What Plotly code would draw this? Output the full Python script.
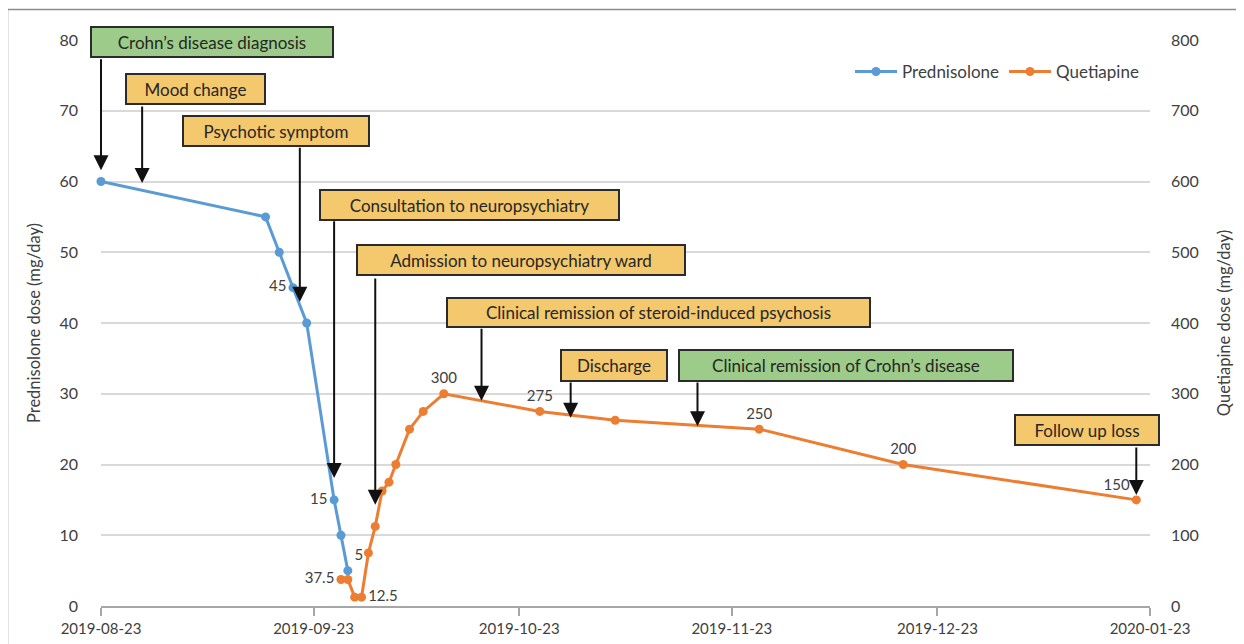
import plotly.graph_objects as go

# ---------------- data ----------------
pred_dates = ['2019-08-23', '2019-09-16', '2019-09-18', '2019-09-20', '2019-09-22',
              '2019-09-26', '2019-09-27', '2019-09-28']
pred_vals = [60, 55, 50, 45, 40, 15, 10, 5]
pred_labels = ['', '', '', '45', '', '15', '', '5']

quet_dates = ['2019-09-27', '2019-09-28', '2019-09-29', '2019-09-30', '2019-10-01',
              '2019-10-02', '2019-10-03', '2019-10-04', '2019-10-05', '2019-10-07',
              '2019-10-09', '2019-10-12', '2019-10-26', '2019-11-06', '2019-11-27',
              '2019-12-18', '2020-01-21']
quet_vals = [37.5, 37.5, 12.5, 12.5, 75, 112.5, 162.5, 175, 200, 250, 275, 300,
             275, 262.5, 250, 200, 150]
quet_labels = ['37.5', '', '', '12.5', '', '', '', '', '', '', '', '300', '275', '',
               '250', '200', '150']

x_ticks = ['2019-08-23', '2019-09-23', '2019-10-23', '2019-11-23', '2019-12-23', '2020-01-23']
x_tick_text = ['2019-08-23', '2019-09-23', '2019-10-23', '2019-11-23', '2019-12-23', '2020-01-23']

event_labels = ["Crohn\u2019s disease diagnosis", "Mood change", "Psychotic symptom",
                "Consultation to neuropsychiatry", "Admission to neuropsychiatry ward",
                "Clinical remission of steroid-induced psychosis", "Discharge",
                "Clinical remission of Crohn\u2019s disease", "Follow up loss"]
event_dates = ['2019-08-23', '2019-08-29', '2019-09-21', '2019-09-26', '2019-10-02',
               '2019-10-17 12:00', '2019-10-30 12:00', '2019-11-18', '2020-01-21']
event_kind = ['crohn', 'psych', 'psych', 'psych', 'psych', 'psych', 'psych', 'crohn', 'psych']
# arrow head / tail heights in prednisolone axis units
event_tip = [61.6, 59.8, 43.0, 18.1, 14.3, 29.0, 26.6, 25.4, 15.7]
event_tail = [77.5, 70.8, 65.0, 54.6, 46.5, 39.4, 31.8, 31.8, 22.6]

# ---------------- layout geometry (screen pixels) ----------------
OFF = 8  # default page body margin
W, H = 1244 - OFF, 644 - OFF
L, T = 101 - OFF, 40 - OFF
R = W - (1150 - OFF)
B = H - (606 - OFF)
PW, PH = W - L - R, H - T - B
box_cx = [212, 195.5, 276, 469.5, 521, 658.5, 614, 846, 1087]
box_cy = [42, 89, 131, 205, 260, 312.5, 365.5, 365.5, 430]
box_w = [244, 141, 188, 301, 330, 425, 108, 336, 146]
box_h = [32, 32, 32, 32, 32, 31, 33, 33, 32]

BLUE = '#5b9bd5'
ORANGE = '#ed7d31'
FILL = {'crohn': '#9dcb89', 'psych': '#f4c86c'}
FONT = 'Lato, Open Sans, sans-serif'
TXT = '#404040'


def px_to_paper_x(px):
    return (px - OFF - L) / PW


def px_to_paper_y(py):
    return (H - B - (py - OFF)) / PH


fig = go.Figure()

pred_pos = ['middle left' if l in ('45', '15') else 'top right' for l in pred_labels]
fig.add_trace(go.Scatter(
    x=pred_dates, y=pred_vals, name='Prednisolone', mode='lines+markers+text',
    text=pred_labels, textposition=pred_pos,
    textfont=dict(size=15, color=TXT, family=FONT),
    line=dict(color=BLUE, width=3), marker=dict(color=BLUE, size=9),
    cliponaxis=False, yaxis='y'))

quet_pos = []
for l in quet_labels:
    if l == '37.5':
        quet_pos.append('middle left')
    elif l == '12.5':
        quet_pos.append('middle right')
    elif l == '150':
        quet_pos.append('top left')
    else:
        quet_pos.append('top center')
fig.add_trace(go.Scatter(
    x=quet_dates, y=quet_vals, name='Quetiapine', mode='lines+markers+text',
    text=quet_labels, textposition=quet_pos,
    textfont=dict(size=15, color=TXT, family=FONT),
    line=dict(color=ORANGE, width=3), marker=dict(color=ORANGE, size=9),
    cliponaxis=False, yaxis='y2'))

annotations = []
for i, lab in enumerate(event_labels):
    annotations.append(dict(
        x=event_dates[i], y=event_tip[i], xref='x', yref='y',
        ax=event_dates[i], ay=event_tail[i], axref='x', ayref='y',
        text='', showarrow=True, arrowhead=2, arrowsize=1.5, arrowwidth=2,
        arrowcolor='#111111', standoff=0, startstandoff=0))
for i, lab in enumerate(event_labels):
    annotations.append(dict(
        x=px_to_paper_x(box_cx[i]), y=px_to_paper_y(box_cy[i]), xref='paper', yref='paper',
        xanchor='center', yanchor='middle', text=lab, showarrow=False,
        width=box_w[i] - 4, height=box_h[i] - 4, borderpad=0, borderwidth=2,
        bordercolor='#2b2b2b', bgcolor=FILL[event_kind[i]],
        font=dict(size=17, color='#262626', family=FONT), align='center', valign='middle'))

shapes = [
    dict(type='line', xref='paper', yref='paper', x0=px_to_paper_x(7), x1=px_to_paper_x(1260),
         y0=px_to_paper_y(9.5), y1=px_to_paper_y(9.5), line=dict(color='#8c8c8c', width=1.5)),
    dict(type='line', xref='paper', yref='paper', x0=px_to_paper_x(7.5), x1=px_to_paper_x(7.5),
         y0=px_to_paper_y(9), y1=px_to_paper_y(660), line=dict(color='#8c8c8c', width=1.5)),
]

xrange = ['2019-08-23', '2020-01-23']
fig.update_layout(
    width=W, height=H, margin=dict(l=L, r=R, t=T, b=B, autoexpand=False),
    paper_bgcolor='white', plot_bgcolor='white',
    font=dict(family=FONT, size=15, color=TXT),
    showlegend=True,
    legend=dict(orientation='h', x=px_to_paper_x(850), y=px_to_paper_y(72),
                xanchor='left', yanchor='middle', font=dict(size=17, color=TXT),
                bgcolor='rgba(0,0,0,0)', itemwidth=42, entrywidth=97,
                entrywidthmode='pixels'),
    xaxis=dict(type='date', range=xrange, tickvals=x_ticks, ticktext=x_tick_text,
               showgrid=False, showline=True, linecolor='#a6a6a6', linewidth=2,
               ticks='outside', ticklen=8, tickwidth=2, tickcolor='#a6a6a6',
               tickfont=dict(size=15, color=TXT), zeroline=False),
    xaxis2=dict(type='date', range=xrange, tickvals=x_ticks, overlaying='x', anchor='y',
                side='bottom', showgrid=False, showline=False, showticklabels=False,
                ticks='inside', ticklen=6, tickwidth=2, tickcolor='#a6a6a6', zeroline=False),
    yaxis=dict(range=[0, 80], tickvals=[0, 10, 20, 30, 40, 50, 60, 70, 80],
               showgrid=True, gridcolor='#d9d9d9', gridwidth=1.5, zeroline=False,
               showline=False, ticks='', ticklabelstandoff=22,
               tickfont=dict(size=16, color=TXT),
               title=dict(text='Prednisolone dose (mg/day)', font=dict(size=16.5, color=TXT),
                          standoff=14)),
    yaxis2=dict(range=[0, 800], tickvals=[0, 100, 200, 300, 400, 500, 600, 700, 800],
                overlaying='y', side='right', showgrid=False, zeroline=False,
                showline=False, ticks='', ticklabelstandoff=20,
                tickfont=dict(size=16, color=TXT),
                title=dict(text='Quetiapine dose (mg/day)', font=dict(size=16.5, color=TXT),
                           standoff=20)),
    annotations=annotations, shapes=shapes,
)

fig.write_html('out.html')
